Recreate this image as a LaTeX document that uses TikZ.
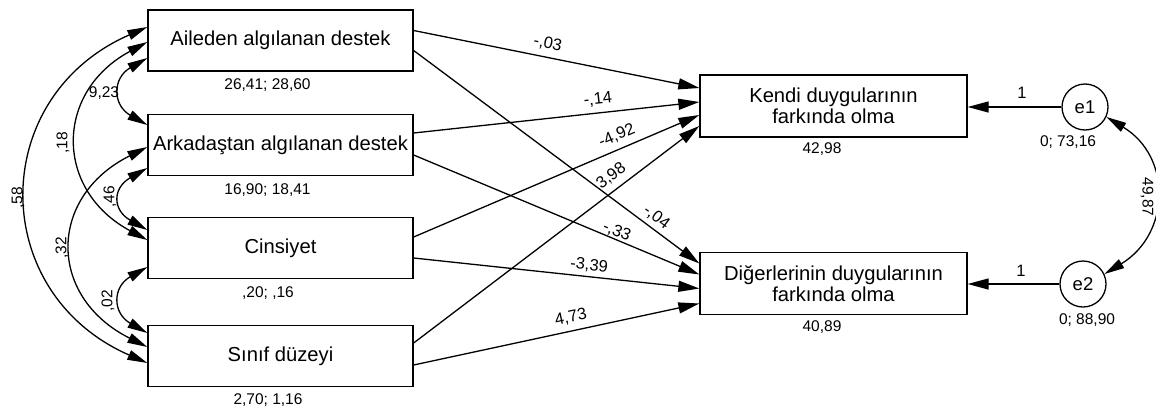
\documentclass[tikz,border=0pt]{standalone}
\usepackage{fontspec}
\setmainfont{Liberation Sans}
\usetikzlibrary{arrows.meta,calc}

\begin{document}
\begin{tikzpicture}[x=1pt,y=-1pt,
  var/.style={draw, line width=1.3pt, minimum width=265pt, minimum height=61pt,
    inner sep=0pt, align=center, font=\fontsize{20.2}{20.5}\selectfont},
  outvar/.style={var, minimum width=267pt, minimum height=62pt},
  err/.style={draw, circle, line width=1.3pt, minimum size=46pt, inner sep=0pt,
    font=\fontsize{18.5}{20}\selectfont},
  est/.style={font=\fontsize{15.5}{17}\selectfont, inner sep=0pt},
  wt/.style={font=\fontsize{16.5}{18}\selectfont, inner sep=0pt, sloped},
  reg/.style={line width=1.3pt, -{Triangle[length=21pt,width=11pt]}},
  cov/.style={line width=1.3pt,
    {Triangle[length=20pt,width=10pt]}-{Triangle[length=20pt,width=10pt]}},
]
\useasboundingbox (0,0) rectangle (1156,410);

% observed predictors
\node[var] (ail) at (280.5,40.5) {Aileden algılanan destek};
\node[var] (ark) at (280.5,145) {Arkadaştan algılanan destek};
\node[var] (cin) at (280.5,248) {Cinsiyet};
\node[var] (sin) at (280.5,356) {Sınıf düzeyi};

% outcomes and their errors
\node[outvar] (ken) at (833.5,106) {Kendi duygularının\\farkında olma};
\node[outvar] (dig) at (833.5,283.5) {Diğerlerinin duygularının\\farkında olma};
\node[err] (e1) at (1085,107) {e1};
\node[err] (e2) at (1083,284) {e2};

% means; variances
\node[est] (ail-v) at ($(ail.south)+(-13,13)$) {26,41; 28,60};
\node[est] (ark-v) at ($(ark.south)+(-13,13.5)$) {16,90; 18,41};
\node[est] (cin-v) at ($(cin.south)+(-12.5,13.5)$) {,20; ,16};
\node[est] (sin-v) at ($(sin.south)+(-12.5,12.5)$) {2,70; 1,16};
\node[est] (ken-v) at ($(ken.south)+(-11.5,11.5)$) {42,98};
\node[est] (dig-v) at ($(dig.south)+(-11.5,11.5)$) {40,89};
\node[est] (e1-v) at ($(e1)+(-17,35)$) {0; 73,16};
\node[est] (e2-v) at ($(e2)+(4,36)$) {0; 88,90};

% regression paths
\draw[reg] ($(ail.east)+(0,-10)$) -- node[wt,pos=.46,above=6pt]{-,03} ($(ken.west)+(0,-18)$);
\draw[reg] ($(ail.east)+(0,10)$)  -- node[wt,pos=.826,above=4pt]{-,04} ($(dig.west)+(0,-20)$);
\draw[reg] ($(ark.east)+(0,-12)$) -- node[wt,pos=.65,above=6pt]{-,14} ($(ken.west)+(0,-4)$);
\draw[reg] ($(ark.east)+(0,10)$)  -- node[wt,pos=.70,above=0.5pt]{-,33} ($(dig.west)+(0,-9)$);
\draw[reg] ($(cin.east)+(0,-11)$) -- node[wt,pos=.73,above=6pt]{-4,92} ($(ken.west)+(0,9)$);
\draw[reg] ($(cin.east)+(0,10)$)  -- node[wt,pos=.61,above=3.5pt]{-3,39} ($(dig.west)+(0,5)$);
\draw[reg] ($(sin.east)+(0,-13)$) -- node[wt,pos=.72,above=6pt]{3,98} ($(ken.west)+(0,20)$);
\draw[reg] ($(sin.east)+(0,9)$)   -- node[wt,pos=.56,above=6pt]{4,73} ($(dig.west)+(0,20)$);

% error terms
\draw[reg] (e1.west) -- node[wt,pos=.42,above=8pt]{1} (e1.west -| ken.east);
\draw[reg] (e2.west) -- node[wt,pos=.42,above=7pt]{1} (e2.west -| dig.east);
\draw[cov] (e1.-25) .. controls +(66,40) and +(66,-40) .. (e2.25);
\node[est, rotate=-90] (c-e) at (1147,197) {49,87};

% covariances among predictors
\draw[cov] ($(ail.west)+(0,17.5)$) .. controls +(-35,20) and +(-35,-20) .. ($(ark.west)+(0,-20)$);
\draw[cov] ($(ail.west)+(0,1.5)$) .. controls +(-93,50) and +(-93,-50) .. ($(cin.west)+(0,-8)$);
\draw[cov] ($(ail.west)+(0,-13.5)$) .. controls +(-160,70) and +(-160,-70) .. ($(sin.west)+(0,7)$);
\draw[cov] ($(ark.west)+(0,23)$) .. controls +(-35,20) and +(-35,-20) .. ($(cin.west)+(0,-18)$);
\draw[cov] ($(ark.west)+(0,2)$) .. controls +(-100,50) and +(-100,-50) .. ($(sin.west)+(0,-9)$);
\draw[cov] ($(cin.west)+(0,19)$) .. controls +(-35,20) and +(-35,-20) .. ($(sin.west)+(0,-23)$);

\node[est] (c-ail-ark) at (104,93) {9,23};
\node[est, rotate=90] (c-ail-cin) at (63,143) {,18};
\node[est, rotate=90] (c-ail-sin) at (18,198) {,58};
\node[est, rotate=90] (c-ark-cin) at (110,197) {,46};
\node[est, rotate=90] (c-ark-sin) at (62,248) {,32};
\node[est, rotate=90] (c-cin-sin) at (108,301) {,02};
\end{tikzpicture}
\end{document}
